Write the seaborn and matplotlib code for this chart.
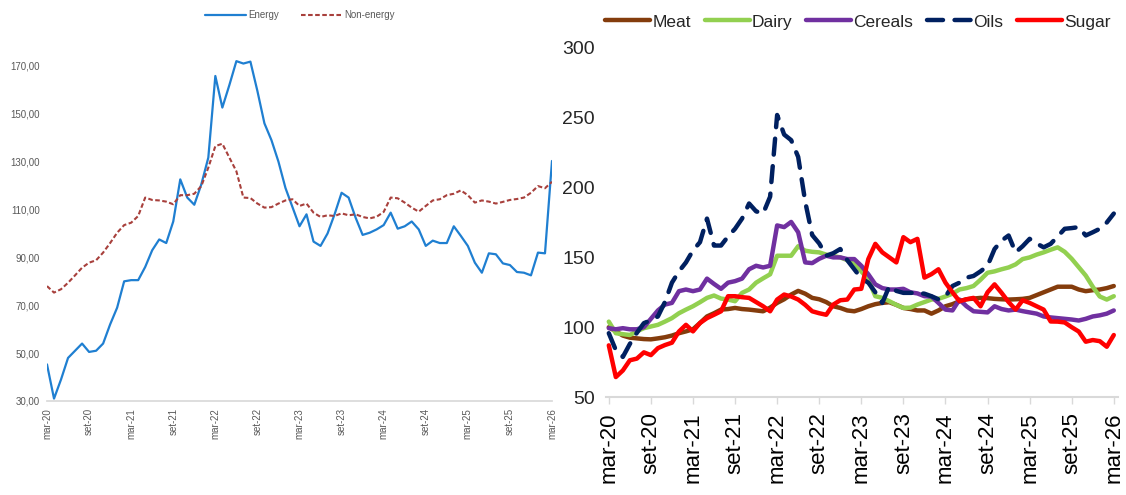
import numpy as np
import pandas as pd
import matplotlib
matplotlib.use("Agg")
import matplotlib.pyplot as plt
import seaborn as sns

# Monthly series, mar-20 ... mar-26 (73 months)
tick_labels = ["mar-20", "set-20", "mar-21", "set-21", "mar-22", "set-22", "mar-23",
               "set-23", "mar-24", "set-24", "mar-25", "set-25", "mar-26"]

energy = [45.3, 31, 39, 48, 51, 54, 50.5, 51, 54, 62, 69, 80, 80.5, 80.5, 86, 93, 97.5, 96,
          105, 122.6, 115, 112, 120.5, 131.7, 165.8, 152.6, 162, 172, 171, 171.8, 159.5, 146,
          139, 130, 119, 111, 103, 108, 96.6, 94.8, 100, 108, 117, 115, 106.6, 99.4, 100.3,
          101.7, 103.5, 108.7, 102, 103, 105, 101.7, 94.8, 97, 96, 96, 103, 99, 94.8, 87.8,
          83.6, 91.7, 91.3, 87.5, 86.8, 83.9, 83.6, 82.5, 92, 91.7, 130.3]
non_energy = [78, 75.3, 76.7, 79.4, 82.5, 85.7, 87.8, 88.8, 92, 96, 100.3, 103.5, 104.5,
              107.3, 115, 114, 113.8, 113.3, 112.2, 116, 116, 116.6, 119.8, 127.5, 136.5,
              137.5, 131.7, 126, 115, 114.8, 112.5, 110.8, 111, 112.5, 113.8, 114.3, 111.5,
              112.5, 108.7, 106.9, 107.6, 107.3, 108.4, 107.6, 108, 106.9, 106.3, 107, 109,
              115, 114.7, 112.9, 110.8, 109.1, 111.5, 113.8, 114.3, 116, 116.6, 118, 116,
              112.9, 113.8, 113.3, 112.5, 113.2, 114, 114.4, 115, 117, 119.8, 118.9, 121.6]

meat = [100, 97, 94, 92.5, 92, 91.5, 91.3, 92, 92.8, 94, 95.7, 97, 98.5, 103, 107.7, 110,
        112.6, 113, 113.8, 113, 112.6, 112, 111.4, 114, 117.4, 120, 123.4, 126, 124, 121,
        120, 118, 115, 113.8, 112, 111.4, 113, 115, 116.5, 117.4, 117.9, 116, 113.8, 113,
        112, 112, 109.7, 112, 115, 116.5, 118.6, 120, 120.5, 121, 120.8, 120.3, 120, 119.8,
        120, 120.3, 121, 123, 125, 127, 129, 129, 129, 127, 125.8, 126.5, 127, 128, 129.5]
dairy = [104, 95.7, 95, 94.4, 97, 99.3, 100.5, 101.7, 104, 106.5, 110, 112.6, 115, 117.9,
         121, 122.7, 120.5, 119.8, 118.6, 124.6, 127, 131.9, 135, 137.9, 151.2, 151.2, 151.2,
         158, 154.8, 154, 153.6, 152, 151, 150, 148, 146.4, 140, 134.3, 122.2, 121, 118.6,
         116, 113.8, 114, 116.2, 118, 119.8, 120.3, 122, 124, 127, 128, 129.5, 134, 139, 140,
         141.5, 142.8, 145, 148.8, 150, 152, 153.6, 155.5, 157.2, 154, 149, 143, 137, 129,
         122, 119.8, 122.2]
cereals = [99.3, 98.5, 99.3, 98.5, 98.5, 100, 106, 112, 116.2, 117.4, 125.8, 127, 125.8,
           127, 134.8, 131, 127.5, 131.9, 133, 134.8, 141.5, 144, 142.8, 144, 172.9, 171.7,
           175.4, 168, 146.4, 145.9, 149, 151.2, 150, 150, 148.8, 148.8, 144, 137.9, 130.7,
           128, 127, 127, 127.5, 125, 124.2, 122.2, 122, 117.4, 112.6, 112, 119.8, 115, 111.4,
           111, 110.6, 115, 113, 112, 112.6, 111.5, 110.6, 109.7, 107.7, 107, 106.5, 106,
           105.5, 104.8, 106, 107.7, 108.5, 109.7, 112]
oils = [95.7, 83.6, 78.7, 88, 96, 102.9, 105, 107.7, 118, 131.9, 140, 146.4, 155, 160.9,
        177.8, 158.5, 158.5, 165, 170.5, 177.8, 188.6, 183, 181.4, 193.5, 252, 238, 234,
        222, 190, 166, 160, 151.2, 153, 156, 148, 141.5, 135, 131.9, 125, 117.4, 129.5, 126,
        124.6, 124.6, 124.6, 124, 122.2, 120, 122, 129.5, 131.9, 135.5, 136.7, 140, 144, 156,
        162, 165.7, 153.6, 158, 163.3, 160, 157.2, 159.7, 165, 170.5, 171, 171.7, 165.7,
        168, 170.5, 175, 181.4]
sugar = [87, 64.3, 69, 76.3, 77.5, 82, 80, 85, 87.2, 88.9, 96.9, 101.7, 97, 103, 106.5,
         108.9, 111.4, 122.2, 122.2, 121.5, 121, 118, 115, 111.4, 119.8, 123.4, 122, 119.8,
         116, 111.4, 110, 108.9, 116.2, 119.3, 119.8, 127, 127.5, 148.8, 159.7, 153.6, 150,
         146.4, 164.5, 160.9, 163.3, 135.5, 138, 141.5, 131.9, 125, 118.6, 120, 121, 115,
         125, 130.7, 124.6, 118, 112.6, 119.3, 117.4, 115, 112.6, 104.1, 104, 103.4, 100,
         96.9, 89.6, 90.8, 90, 86, 94.4]

months = np.arange(len(energy))
tick_pos = months[::6]

sns.set_theme(style="white")
plt.rcParams['font.family'] = ['Liberation Sans', 'DejaVu Sans']

fig = plt.figure(figsize=(11.26, 4.95), dpi=100)
W, H = 1126, 495

# ---------------- left panel: energy vs non-energy ----------------
ax1 = fig.add_axes([47 / W, (H - 401) / H, (552 - 47) / W, (401 - 42) / H])
df_left = pd.DataFrame({"month": months, "Energy": energy, "Non-energy": non_energy})
sns.lineplot(data=df_left, x="month", y="Energy", ax=ax1, color="#1f7fd1",
             linewidth=1.6, label="Energy")
sns.lineplot(data=df_left, x="month", y="Non-energy", ax=ax1, color="#a8403c",
             linewidth=1.5, label="Non-energy")
ax1.lines[1].set_dashes((2.2, 1.2))

ax1.set_xlim(0, 72)
ax1.set_ylim(30, 180)
ax1.set_yticks(np.arange(30, 171, 20))
ax1.set_yticklabels([f"{v},00" for v in range(30, 171, 20)], fontsize=7, color="#595959")
ax1.set_xticks(tick_pos)
ax1.set_xticklabels(tick_labels, rotation=90, fontsize=7, color="#595959")
ax1.tick_params(axis="both", length=0, pad=5)
ax1.set_xlabel("")
ax1.set_ylabel("")
for side in ["left", "right", "top"]:
    ax1.spines[side].set_visible(False)
ax1.spines["bottom"].set_color("#d9d9d9")
leg1 = ax1.legend(loc="center", bbox_to_anchor=(300 / W, 1 - 15 / H),
                  bbox_transform=fig.transFigure, ncol=2, frameon=False,
                  fontsize=7, handlelength=4.2, handletextpad=0.3, columnspacing=2.2)
for t in leg1.get_texts():
    t.set_color("#595959")

# ---------------- right panel: food sub-indices ----------------
ax2 = fig.add_axes([606 / W, (H - 397) / H, (1118 - 606) / W, (397 - 48) / H])
df_right = pd.DataFrame({"month": months, "Meat": meat, "Dairy": dairy,
                         "Cereals": cereals, "Oils": oils, "Sugar": sugar})
colors = {"Meat": "#843c0c", "Dairy": "#92d050", "Cereals": "#7030a0",
          "Oils": "#002060", "Sugar": "#ff0000"}
for name in ["Meat", "Dairy", "Cereals", "Oils", "Sugar"]:
    sns.lineplot(data=df_right, x="month", y=name, ax=ax2, color=colors[name],
                 linewidth=3.2, label=name)
ax2.lines[3].set_dashes((3.6, 2.6))
ax2.lines[3].set_dash_capstyle("round")

ax2.set_xlim(-0.4, 72.6)
ax2.set_ylim(50, 300)
ax2.set_yticks(np.arange(50, 301, 50))
ax2.set_yticklabels([str(v) for v in range(50, 301, 50)], fontsize=14, color="#262626")
ax2.tick_params(axis="y", length=0, pad=8)
ax2.set_xticks(tick_pos)
ax2.set_xticklabels(tick_labels, rotation=90, fontsize=16, color="black")
ax2.tick_params(axis="x", length=5, width=1, color="#d9d9d9", pad=6, bottom=True)
ax2.set_xlabel("")
ax2.set_ylabel("")
for side in ["left", "right", "top"]:
    ax2.spines[side].set_visible(False)
ax2.spines["bottom"].set_color("#d9d9d9")
ax2.spines["bottom"].set_linewidth(1.5)
leg2 = ax2.legend(loc="center", bbox_to_anchor=(858 / W, 1 - 22 / H),
                  bbox_transform=fig.transFigure, ncol=5, frameon=False,
                  fontsize=12.5, handlelength=2.6, handletextpad=0.1, columnspacing=0.8)
for t in leg2.get_texts():
    t.set_color("#262626")

fig.savefig("out.png", dpi=100)
